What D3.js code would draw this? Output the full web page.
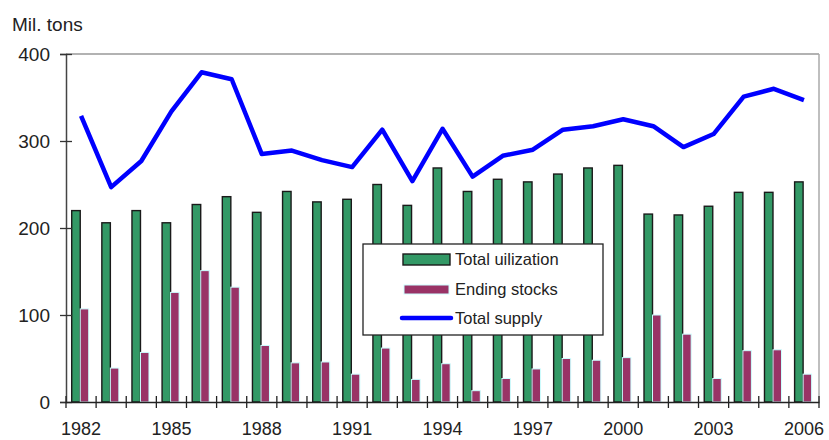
<!DOCTYPE html>
<html>
<head>
<meta charset="utf-8">
<script src="https://cdn.jsdelivr.net/npm/d3@7"></script>
<style>
  body { margin: 0; background: #fff; }
  svg { display: block; font-family: "Liberation Sans", Arial, sans-serif; }
</style>
</head>
<body>
<div id="chart"></div>
<script>
var years = [1982, 1983, 1984, 1985, 1986, 1987, 1988, 1989, 1990, 1991, 1992, 1993,
             1994, 1995, 1996, 1997, 1998, 1999, 2000, 2001, 2002, 2003, 2004, 2005, 2006];
var utilization = [220, 206, 220, 206, 227, 236, 218, 242, 230, 233, 250, 226,
                   269, 242, 256, 253, 262, 269, 272, 216, 215, 225, 241, 241, 253];
var stocks = [107, 39, 57, 126, 151, 132, 65, 45, 46, 32, 62, 26,
              44, 13, 27, 38, 50, 48, 51, 100, 78, 27, 59, 60, 32];
var supply = [329, 247, 277, 334, 379, 371, 285, 289, 278, 270, 313, 254,
              314, 259, 283, 290, 313, 317, 325, 317, 293, 308, 351, 360, 347];
var yTicks = [0, 100, 200, 300, 400];
var labelYears = [1982, 1985, 1988, 1991, 1994, 1997, 2000, 2003, 2006];
var seriesNames = ["Total uilization", "Ending stocks", "Total supply"];

var width = 829, height = 440;
var plotLeft = 66, plotRight = 819, plotTop = 54, plotBottom = 402;

var svg = d3.select("#chart").append("svg")
  .attr("width", width)
  .attr("height", height);

var x = d3.scaleBand().domain(years).range([plotLeft, plotRight]).padding(0);
var bw = x.bandwidth();
var sub = d3.scaleBand().domain(["util", "stocks"]).range([bw * 0.19, bw * 0.755]);
var y = d3.scaleLinear().domain([0, 400]).range([plotBottom, plotTop]);

// frame: top and right borders
svg.append("line")
  .attr("x1", plotLeft).attr("x2", plotRight)
  .attr("y1", y(400)).attr("y2", y(400))
  .attr("stroke", "#999").attr("stroke-width", 1.5);
svg.append("line")
  .attr("x1", plotRight).attr("x2", plotRight)
  .attr("y1", y(400)).attr("y2", plotBottom)
  .attr("stroke", "#aaa").attr("stroke-width", 1.5);

// bars
svg.selectAll(".util")
  .data(utilization)
  .enter()
  .append("rect")
    .attr("class", "util")
    .attr("x", function(d, i) { return x(years[i]) + sub("util"); })
    .attr("y", function(d) { return y(d); })
    .attr("width", sub.bandwidth())
    .attr("height", function(d) { return plotBottom - y(d); })
    .attr("fill", "#339966")
    .attr("stroke", "#1a1a1a")
    .attr("stroke-width", 1.4);

svg.selectAll(".stocks")
  .data(stocks)
  .enter()
  .append("rect")
    .attr("class", "stocks")
    .attr("x", function(d, i) { return x(years[i]) + sub("stocks"); })
    .attr("y", function(d) { return y(d); })
    .attr("width", sub.bandwidth())
    .attr("height", function(d) { return plotBottom - y(d); })
    .attr("fill", "#993366")
    .attr("stroke", "#ccffff")
    .attr("stroke-width", 1);

// supply line
var line = d3.line()
  .x(function(d, i) { return x(years[i]) + bw / 2; })
  .y(function(d) { return y(d); });

svg.append("path")
  .datum(supply)
  .attr("d", line)
  .attr("fill", "none")
  .attr("stroke", "#0000ff")
  .attr("stroke-width", 4.5)
  .attr("stroke-linejoin", "round");

// y axis
var yAxis = svg.append("g")
  .attr("transform", "translate(" + plotLeft + ",0)")
  .call(d3.axisLeft(y).tickValues(yTicks).tickSize(6).tickPadding(10));
yAxis.select(".domain").attr("stroke", "#444").attr("stroke-width", 1.5);
yAxis.selectAll(".tick line").attr("x1", 6).attr("stroke", "#333").attr("stroke-width", 1.3);
yAxis.selectAll(".tick text")
  .attr("font-size", 19)
  .attr("fill", "#222")
  .attr("font-family", "Liberation Sans, Arial, sans-serif");

// x axis
var xAxis = svg.append("g")
  .attr("transform", "translate(0," + plotBottom + ")")
  .call(d3.axisBottom(x).tickValues(labelYears).tickSize(0).tickPadding(20));
xAxis.select(".domain").attr("stroke", "#222").attr("stroke-width", 1.5);
xAxis.selectAll(".tick text")
  .attr("font-size", 18)
  .attr("fill", "#222")
  .attr("font-family", "Liberation Sans, Arial, sans-serif");

var bounds = years.map(function(d) { return x(d); }).concat([plotRight]);
svg.selectAll(".xtick")
  .data(bounds)
  .enter()
  .append("line")
    .attr("class", "xtick")
    .attr("x1", function(d) { return d; })
    .attr("x2", function(d) { return d; })
    .attr("y1", plotBottom - 6)
    .attr("y2", plotBottom + 6)
    .attr("stroke", "#222")
    .attr("stroke-width", 1.3);

// unit label
svg.append("text")
  .attr("x", 12)
  .attr("y", 31)
  .attr("font-size", 19)
  .attr("fill", "#222")
  .text("Mil. tons");

// legend
var legend = svg.append("g").attr("transform", "translate(363,244)");
legend.append("rect")
  .attr("width", 240).attr("height", 91)
  .attr("fill", "#fff")
  .attr("stroke", "#222").attr("stroke-width", 1.3);

legend.append("rect")
  .attr("x", 40).attr("y", 10).attr("width", 47).attr("height", 11)
  .attr("fill", "#339966").attr("stroke", "#1a1a1a").attr("stroke-width", 1.4);
legend.append("rect")
  .attr("x", 41).attr("y", 41).attr("width", 45).attr("height", 9)
  .attr("fill", "#993366").attr("stroke", "#ccffff").attr("stroke-width", 1);
legend.append("line")
  .attr("x1", 39).attr("x2", 88).attr("y1", 74).attr("y2", 74)
  .attr("stroke", "#0000ff").attr("stroke-width", 4.5).attr("stroke-linecap", "round");

legend.selectAll(".legend-text")
  .data(seriesNames)
  .enter()
  .append("text")
    .attr("class", "legend-text")
    .attr("x", 92)
    .attr("y", function(d, i) { return 21 + i * 29.5; })
    .attr("font-size", 16.5)
    .attr("fill", "#222")
    .text(function(d) { return d; });
</script>
</body>
</html>
